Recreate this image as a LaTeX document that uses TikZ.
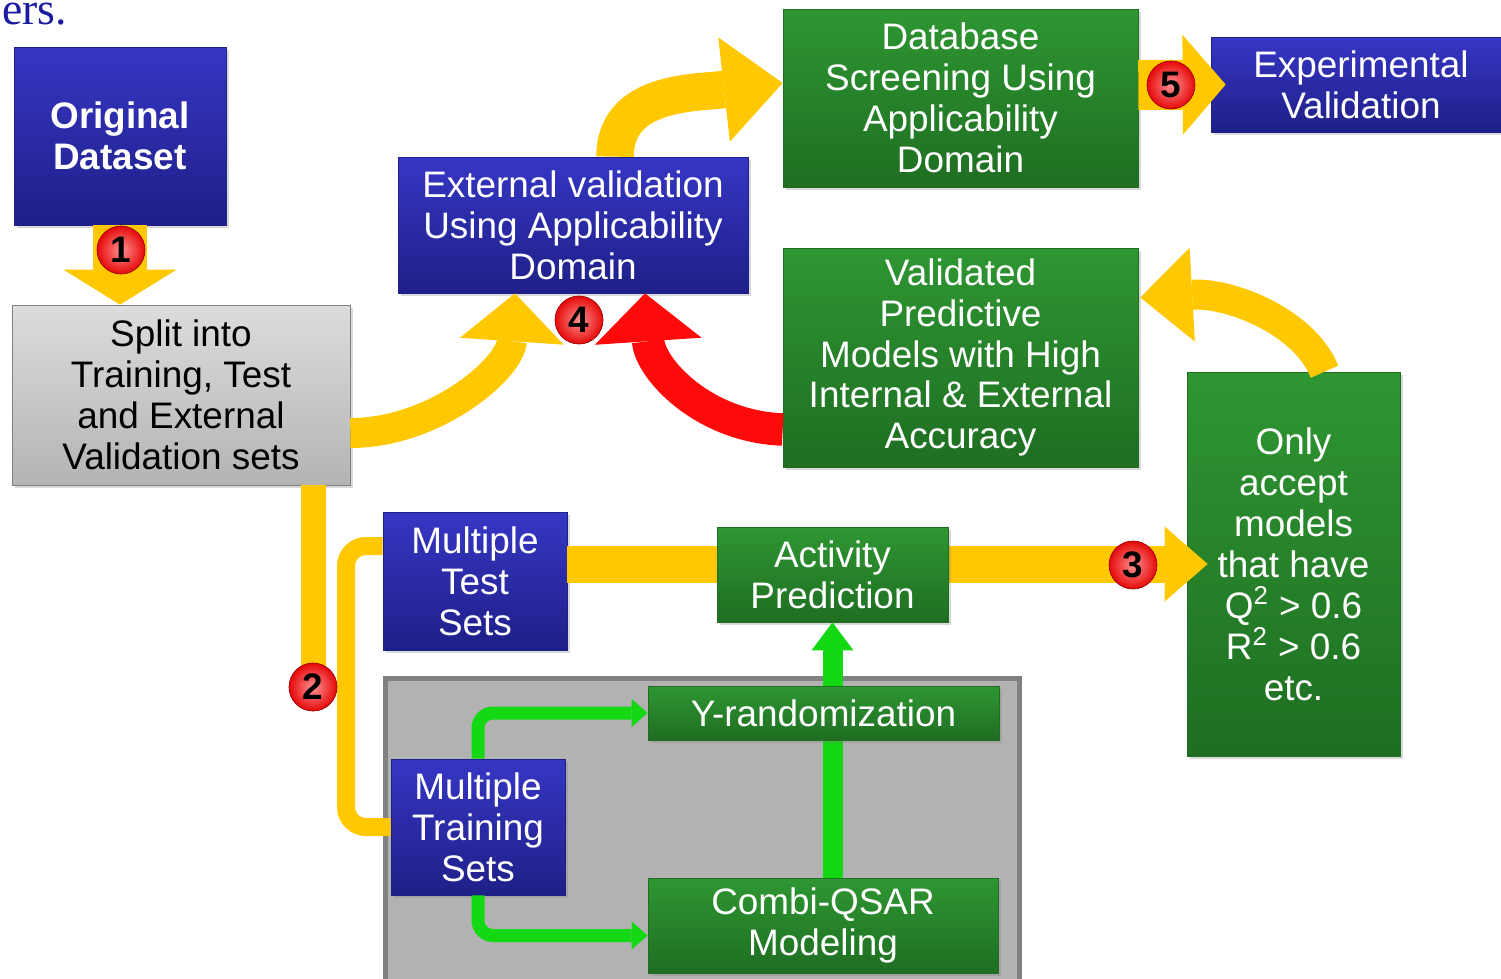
\documentclass[tikz,border=0pt]{standalone}
\usepackage{fontspec}
\setmainfont{Liberation Sans}
\newfontfamily\serifers{Liberation Serif}
\usetikzlibrary{arrows.meta,calc,shadows}

\definecolor{qsBlueTop}{HTML}{3636C4}
\definecolor{qsBlueBot}{HTML}{1F1F88}
\definecolor{qsGreenTop}{HTML}{2E9632}
\definecolor{qsGreenBot}{HTML}{1F6E22}
\definecolor{qsGrayTop}{HTML}{DCDCDC}
\definecolor{qsGrayBot}{HTML}{B4B4B4}
\definecolor{qsPanel}{HTML}{B2B2B2}
\definecolor{qsYellow}{HTML}{FFC800}
\definecolor{qsRed}{HTML}{FF0A0A}
\definecolor{qsLime}{HTML}{14D814}
\definecolor{qsNavy}{HTML}{1B1BA0}

\newcommand\qsfont{\fontsize{21}{23.3}\selectfont}

\begin{document}
\begin{tikzpicture}[x=0.02cm,y=-0.02cm,font=\qsfont,
  box/.style={rectangle,inner sep=0pt,align=center,
    drop shadow={opacity=0.3,shadow xshift=0.06cm,shadow yshift=-0.06cm}},
  bluebox/.style={box,top color=qsBlueTop,bottom color=qsBlueBot,draw=qsBlueBot,text=white},
  greenbox/.style={box,top color=qsGreenTop,bottom color=qsGreenBot,draw=qsGreenBot,text=white},
  graybox/.style={box,top color=qsGrayTop,bottom color=qsGrayBot,draw=gray,text=black},
  badge/.style={circle,shading=radial,inner color=qsRed!45!white,outer color=qsRed!90!black,
    draw=qsRed!60!black,minimum size=0.96cm,inner sep=0pt,font=\fontsize{21}{21}\selectfont\bfseries,text=black},
  fat/.style={draw=qsYellow,line width=#1},
  thin/.style={draw=qsLime,line width=#1}]
  \useasboundingbox (0,0) rectangle (1501,978);
  \clip (0,0) rectangle (1501,978);

  \node[anchor=base west,inner sep=0pt,text=qsNavy,font=\fontsize{26}{26}\serifers] (ers) at (2,24) {ers.};

  \node[bluebox,minimum width=4.24cm,minimum height=3.56cm,font=\qsfont\bfseries] (orig) at (120,136) {Original\\Dataset};
  \node[graybox,minimum width=6.76cm,minimum height=3.6cm] (split) at (181,395) {Split into\\Training, Test\\and External\\Validation sets};
  \node[bluebox,minimum width=7cm,minimum height=2.72cm] (ext) at (573,225) {External validation\\Using Applicability\\Domain};
  \node[greenbox,minimum width=7.1cm,minimum height=3.56cm] (dbs) at (960.5,98) {Database\\Screening Using\\Applicability\\Domain};
  \node[bluebox,minimum width=6cm,minimum height=1.9cm] (expv) at (1361,84.5) {Experimental\\Validation};
  \node[greenbox,minimum width=7.1cm,minimum height=4.38cm] (valid) at (960.5,357.5) {Validated\\Predictive\\Models with High\\Internal \& External\\Accuracy};
  \node[greenbox,minimum width=4.26cm,minimum height=7.68cm] (accept) at (1293.5,564) {Only\\accept\\models\\that have\\Q\textsuperscript{2} > 0.6\\R\textsuperscript{2} > 0.6\\etc.};
  \node[bluebox,minimum width=3.68cm,minimum height=2.76cm] (mtest) at (475,581) {Multiple\\Test\\Sets};

  \node[anchor=north west,minimum width=12.68cm,minimum height=7cm,fill=qsPanel,draw=gray,line width=3pt] (panel) at (383,676) {};

  \draw[fat=0.74cm,-{Triangle[width=1.5cm,length=0.86cm,line width=0pt]}] (mtest.east |- accept.west) -- ($(accept.west)+(21,0)$);
  \node[greenbox,minimum width=4.62cm,minimum height=1.9cm] (act) at (832.5,574.5) {Activity\\Prediction};

  \node[greenbox,minimum width=7cm,minimum height=1.9cm] (combi) at (823,925.5) {Combi-QSAR\\Modeling};
  \node[bluebox,minimum width=3.48cm,minimum height=2.72cm] (mtrain) at (478,827) {Multiple\\Training\\Sets};
  \draw[thin=0.4cm,-{Triangle[width=0.84cm,length=0.56cm,line width=0pt]}] (combi.north -| act.south) -- (act.south);
  \node[greenbox,minimum width=7.02cm,minimum height=1.08cm] (yrand) at (823.5,713) {Y-randomization};
  \draw[thin=0.26cm,rounded corners=0.3cm,-{Triangle[width=0.56cm,length=0.32cm,line width=0pt]}] (mtrain.north) |- (yrand.west);
  \draw[thin=0.26cm,rounded corners=0.3cm,-{Triangle[width=0.56cm,length=0.32cm,line width=0pt]}] (mtrain.south) |- ($(combi.west)+(0,10)$);

  \coordinate (c1) at (121,250);
  \coordinate (c2) at (313,687);
  \coordinate (c3) at (1133,565);
  \coordinate (c4) at (579,320);
  \coordinate (c5) at (1171,85);

  \draw[fat=1.1cm,-{Triangle[width=2.26cm,length=0.7cm,line width=0pt]}] (orig.south) -- (orig.south |- split.north);
  \draw[fat=0.5cm] (split.south -| c2) -- (c2);
  \draw[fat=0.36cm,rounded corners=0.4cm] ($(mtest.west)+(0,-35)$) -| ($(c2)+(33,0)$) |- (mtrain.west);
  \draw[fat=0.6cm,-{Triangle[width=2.08cm,length=0.96cm,line width=0pt]}] ($(split.east)+(0,38)$) .. controls +(85,0) and +(-5,75) .. ($(ext.south)+(-58,0)$);
  \draw[draw=qsRed,line width=0.65cm,-{Triangle[width=2.14cm,length=0.96cm,line width=0pt]}] ($(valid.west)+(0,72)$) .. controls +(-80,-3) and +(5,75) .. ($(ext.south)+(72,0)$);
  \draw[fat=0.75cm,-{Triangle[width=2.1cm,length=1.18cm,line width=0pt]}] ($(ext.north)+(42,0)$) .. controls +(0,-65) and +(-90,10) .. ($(dbs.west)+(0,-15)$);
  \draw[fat=1cm,-{Triangle[width=2cm,length=0.86cm,line width=0pt]}] ($(dbs.east)+(0,-13)$) -- ($(expv.west)+(15,0)$);
  \draw[fat=0.6cm,-{Triangle[width=1.88cm,length=1.04cm,line width=0pt]}] ($(accept.north)+(31,0)$) .. controls +(-20,-50) and +(90,-5) .. ($(valid.east)+(2,-60)$);

  \node[badge] (b1) at (c1) {1};
  \node[badge] (b2) at (c2) {2};
  \node[badge] (b3) at (c3) {3};
  \node[badge] (b4) at (c4) {4};
  \node[badge] (b5) at (c5) {5};
\end{tikzpicture}
\end{document}
